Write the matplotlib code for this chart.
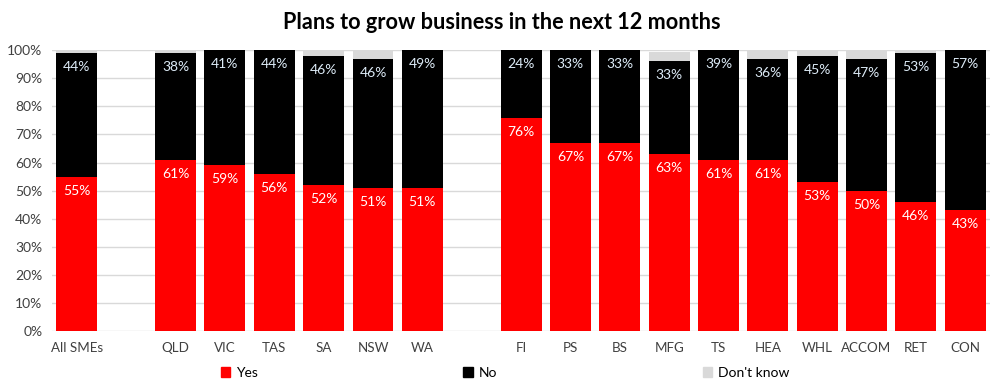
import matplotlib.pyplot as plt
from matplotlib.patches import Patch

plt.rcParams['font.family'] = ['Lato', 'DejaVu Sans']

categories = ["All SMEs",
              "QLD", "VIC", "TAS", "SA", "NSW", "WA",
              "FI", "PS", "BS", "MFG", "TS", "HEA", "WHL", "ACCOM", "RET", "CON"]
group_sizes = [1, 6, 10]
yes = [55, 61, 59, 56, 52, 51, 51, 76, 67, 67, 63, 61, 61, 53, 50, 46, 43]
no = [44, 38, 41, 44, 46, 46, 49, 24, 33, 33, 33, 39, 36, 45, 47, 53, 57]
dont_know = [1, 1, 0.5, 0, 2, 3, 0, 0, 0, 0, 3.5, 0, 3, 2, 3, 1, 0]

# one empty slot between groups
x = []
pos = 0
for size in group_sizes:
    x.extend(range(pos, pos + size))
    pos += size + 1

fig = plt.figure(figsize=(10.04, 3.89), dpi=100)
ax = fig.add_axes([0.052, 0.149, 0.934, 0.722])

w = 0.83
ax.bar(x, yes, w, color='#FF0000', zorder=3)
ax.bar(x, no, w, bottom=yes, color='#000000', zorder=3)
tops = [a + b for a, b in zip(yes, no)]
ax.bar(x, dont_know, w, bottom=tops, color='#D9D9D9', zorder=3)

for xi, y, n, t in zip(x, yes, no, tops):
    ax.text(xi, y - 5, f"{y}%", ha='center', va='center', color='white', fontsize=10, zorder=4)
    ax.text(xi, t - 5, f"{n}%", ha='center', va='center', color='#DDEBF7', fontsize=10, zorder=4)

ax.set_xlim(-0.5, 18.5)
ax.set_ylim(0, 100)
ax.set_yticks(range(0, 101, 10))
ax.set_yticklabels([f"{v}%" for v in range(0, 101, 10)], fontsize=10, color='#404040')
ax.set_xticks(x)
ax.set_xticklabels(categories, fontsize=9.6, color='#404040')
ax.tick_params(length=0, pad=8)
ax.tick_params(axis='y', pad=7)
ax.grid(axis='y', color='#D9D9D9', linewidth=1, zorder=0)
for s in ax.spines.values():
    s.set_visible(False)

fig.text(0.5, 0.943, "Plans to grow business in the next 12 months",
         ha='center', va='center', fontsize=15.6, fontweight='bold')

handles = [Patch(color='#FF0000', label='Yes'),
           Patch(color='#000000', label='No'),
           Patch(color='#D9D9D9', label="Don't know")]
fig.legend(handles=handles, loc='center', bbox_to_anchor=(0.503, 0.041), ncol=3, frameon=False,
           fontsize=10, handlelength=0.7, handleheight=0.7, handletextpad=0.4, columnspacing=14.8)

fig.savefig("out.png", dpi=100)
